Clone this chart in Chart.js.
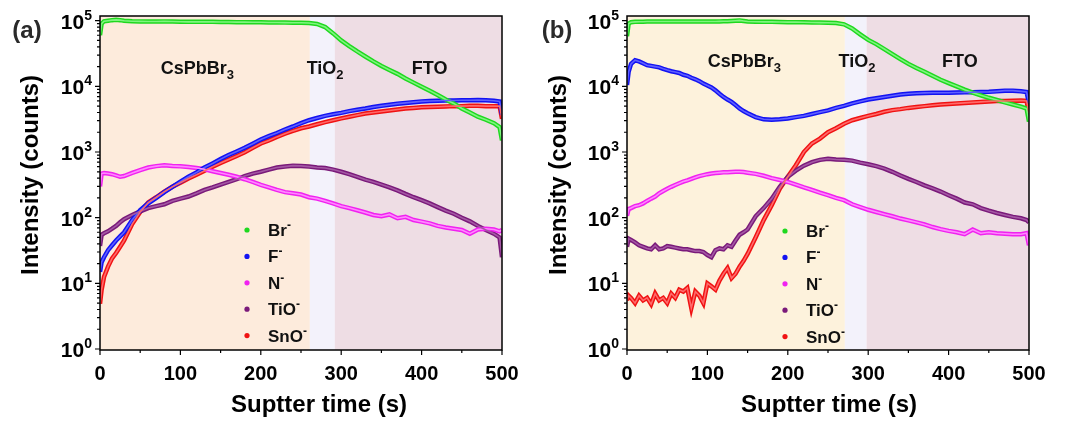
<!DOCTYPE html>
<html>
<head>
<meta charset="utf-8">
<script src="https://cdn.jsdelivr.net/npm/chart.js@4.4.0/dist/chart.umd.min.js"></script>
<style>
  body { margin: 0; background: #fff; width: 1072px; height: 428px; position: relative; overflow: hidden; }
  canvas { position: absolute; top: 0; }
  #chartA { left: 0; }
  #chartB { left: 528px; }
</style>
</head>
<body>
<canvas id="chartA" width="530" height="428"></canvas>
<canvas id="chartB" width="530" height="428"></canvas>
<script>
// Sputter profiles (counts vs time in s)
const seriesNames = ['Br', 'F', 'N', 'TiO', 'SnO'];
const seriesColors = ['#1fd81f', '#1212f2', '#f022f0', '#7a1a7a', '#f01212'];
const seriesInner = ['#80f580', '#6060ff', '#ff88ff', '#a458a4', '#ff6a6a'];

const xTicks = [0, 100, 200, 300, 400, 500];
const xMinorTicks = [50, 150, 250, 350, 450];
const yExponents = [0, 1, 2, 3, 4, 5];

// layer boundaries (s) and names
const layerNames = ['CsPbBr', 'TiO', 'FTO'];
const layerSubs = ['3', '2', ''];
const layersA = [0, 261, 292, 500];
const layersB = [0, 271, 298, 500];

// panel (a)
const timeA = [0, 2, 5, 10, 15, 20, 25, 30, 40, 50, 60, 70, 80, 90, 100, 110, 120, 130, 140, 150,
  160, 170, 180, 190, 200, 210, 220, 230, 240, 250, 260, 270, 280, 290, 300, 310, 320, 330, 340, 350,
  360, 370, 380, 390, 400, 410, 420, 430, 440, 450, 460, 470, 480, 490, 497, 500];
const brA = [60000, 90000, 98000, 100000, 102000, 103000, 102000, 100000, 98000, 97500, 97000, 97000, 97500, 97000, 96500, 96000, 96500, 96000, 96000, 95500,
  95500, 95000, 95000, 94500, 94500, 94000, 94000, 93500, 93000, 93000, 92000, 89000, 80000, 64000, 50000, 41000, 34000, 28500, 24000, 20500,
  17800, 15500, 13200, 11400, 9900, 8600, 7400, 6300, 5500, 4600, 4000, 3450, 3100, 2750, 2400, 1500];
const fA = [15, 21, 25, 32, 38, 45, 52, 60, 92, 130, 165, 200, 245, 295, 355, 420, 490, 580, 670, 780,
  900, 1020, 1160, 1340, 1550, 1750, 1950, 2200, 2450, 2750, 3050, 3300, 3550, 3750, 3950, 4200, 4400, 4600, 4850, 5050,
  5250, 5450, 5600, 5750, 5900, 6000, 6050, 6100, 6100, 6150, 6150, 6200, 6150, 6050, 5900, 3700];
const nA = [300, 470, 480, 470, 460, 440, 420, 430, 480, 530, 580, 610, 630, 615, 605, 590, 570, 545, 510, 480,
  450, 420, 385, 350, 316, 290, 265, 245, 235, 225, 205, 195, 180, 165, 150, 140, 130, 120, 110, 105,
  112, 98, 103, 92, 87, 82, 75, 71, 68, 65, 57, 66, 68, 66, 62, 65];
const tiA = [37, 55, 58, 62, 68, 75, 85, 95, 110, 125, 140, 150, 160, 180, 195, 210, 235, 265, 290, 320,
  350, 385, 430, 470, 500, 540, 580, 600, 620, 615, 600, 580, 570, 540, 500, 460, 420, 380, 350, 320,
  290, 260, 230, 205, 185, 165, 145, 128, 115, 100, 88, 75, 65, 57, 50, 25];
const snA = [4.9, 8, 12.5, 18, 24, 29, 36, 45, 80, 122, 170, 205, 250, 295, 340, 395, 450, 520, 595, 680,
  770, 870, 990, 1160, 1350, 1500, 1700, 1900, 2100, 2300, 2450, 2650, 2850, 3050, 3250, 3450, 3650, 3850, 4000, 4150,
  4300, 4450, 4600, 4700, 4800, 4850, 4900, 4950, 5000, 5000, 5050, 5050, 5000, 5000, 5000, 3200];

// panel (b)
const timeB = [0, 2, 5, 10, 15, 20, 25, 30, 35, 40, 45, 50, 55, 60, 65, 70, 75, 80, 85, 90, 95, 100,
  105, 110, 115, 120, 125, 130, 135, 140, 145, 150, 160, 170, 180, 190, 200, 210, 220, 230, 240, 250,
  260, 270, 280, 290, 300, 310, 320, 330, 340, 350, 360, 370, 380, 390, 400, 410, 420, 430, 440, 450,
  460, 470, 480, 490, 497, 500];
const brB = [58000, 90000, 95000, 96000, 96500, 96500, 97000, 97000, 97000, 97000, 97000, 97000, 97000, 97000, 97000, 97000, 97000, 97000, 97000, 97000, 97000, 97000,
  97000, 97000, 97500, 98000, 98000, 99000, 100000, 101000, 99000, 97000, 96500, 96000, 96000, 95500, 95000, 95000, 94500, 94000, 93500, 93000,
  92000, 88000, 76000, 62000, 51000, 44000, 37000, 31000, 26000, 22000, 19000, 16700, 14500, 12600, 11200, 10000, 8900, 8000, 7300, 6700,
  6200, 5700, 5300, 4900, 4600, 2900];
const fB = [10500, 16600, 22000, 25000, 24000, 22500, 21000, 20500, 20000, 19500, 18500, 17700, 17000, 16500, 16000, 15000, 14500, 13500, 12800, 12000, 11000, 10300,
  9600, 8700, 7700, 6900, 6300, 5800, 5200, 4600, 4200, 3900, 3400, 3150, 3100, 3150, 3250, 3400, 3550, 3800, 4050, 4300,
  4700, 5050, 5500, 5900, 6300, 6600, 6900, 7200, 7500, 7700, 7850, 7950, 8000, 8000, 8000, 8050, 8100, 8150, 8200, 8250,
  8400, 8600, 8600, 8400, 8200, 5500];
const nB = [107, 135, 140, 150, 155, 165, 180, 195, 210, 235, 255, 275, 295, 315, 335, 355, 370, 390, 410, 430, 445, 460,
  470, 480, 485, 490, 490, 495, 500, 500, 495, 485, 465, 435, 400, 375, 350, 320, 290, 265, 240, 220,
  200, 185, 160, 145, 132, 122, 113, 105, 97, 91, 85, 79, 72, 67, 63, 60, 56, 66, 58, 60,
  58, 57, 56, 56, 58, 38];
const tiB = [36, 48, 46, 42, 38, 36, 34, 33, 38, 33, 34, 37, 36, 35, 34, 33, 33, 32, 31, 31, 30, 27,
  25, 32, 34, 33, 38, 36, 45, 55, 60, 66, 105, 140, 195, 295, 420, 520, 620, 700, 760, 790,
  770, 760, 740, 690, 650, 610, 560, 500, 440, 390, 350, 310, 280, 250, 220, 195, 170, 160, 140, 128,
  118, 110, 103, 98, 92, 85];
const snB = [5.5, 6.5, 6, 5, 6.5, 5.5, 6, 4.8, 7, 5.5, 6, 5, 7, 6, 8, 7.5, 8.5, 4.2, 7.5, 6.5, 5, 10,
  9, 8, 11, 14, 17, 12, 14, 18, 22, 28, 50, 92, 155, 275, 420, 630, 1000, 1350, 1600, 2000,
  2300, 2700, 3050, 3300, 3550, 3800, 4100, 4350, 4500, 4700, 4850, 5000, 5150, 5300, 5400, 5500, 5600, 5700, 5800, 5900,
  6000, 6000, 6050, 6100, 6000, 3900];

const FONT = '"Liberation Sans", Arial, sans-serif';

// draw a row of text pieces: [text, size, dy]
function drawRuns(ctx, runs, x, y, align) {
  let w = 0;
  runs.forEach(([t, s]) => { ctx.font = `bold ${s}px ${FONT}`; w += ctx.measureText(t).width; });
  let cx = align === 'center' ? x - w / 2 : align === 'right' ? x - w : x;
  ctx.textAlign = 'left';
  ctx.textBaseline = 'alphabetic';
  runs.forEach(([t, s, dy]) => {
    ctx.font = `bold ${s}px ${FONT}`;
    ctx.fillText(t, cx, y + dy);
    cx += ctx.measureText(t).width;
  });
}

const decorPlugin = {
  id: 'decor',
  beforeDatasetsDraw(chart) {
    const { ctx, chartArea: a, scales: { x } } = chart;
    const p = chart.options.plugins.decor;
    ctx.save();
    for (let i = 0; i < 3; i++) {
      const x0 = x.getPixelForValue(p.layers[i]);
      const x1 = x.getPixelForValue(p.layers[i + 1]);
      ctx.fillStyle = p.layerColors[i];
      ctx.fillRect(x0, a.top, x1 - x0, a.bottom - a.top);
    }
    ctx.restore();
  },
  afterDatasetsDraw(chart) {
    const { ctx, chartArea: a, scales: { x, y } } = chart;
    const p = chart.options.plugins.decor;
    ctx.save();
    ctx.beginPath();
    ctx.rect(a.left, a.top, a.right - a.left, a.bottom - a.top);
    ctx.clip();
    // lighter core of each trace (hollow markers look)
    chart.data.datasets.forEach((ds, i) => {
      const pts = chart.getDatasetMeta(i).data;
      ctx.beginPath();
      pts.forEach((pt, j) => j ? ctx.lineTo(pt.x, pt.y) : ctx.moveTo(pt.x, pt.y));
      ctx.strokeStyle = seriesInner[i];
      ctx.lineWidth = 1.6;
      ctx.stroke();
    });
    ctx.restore();

    ctx.save();
    ctx.fillStyle = '#111';
    // layer labels
    for (let i = 0; i < 3; i++) {
      const runs = [[layerNames[i], 18, 0]];
      if (layerSubs[i]) runs.push([layerSubs[i], 13, 5]);
      drawRuns(ctx, runs, x.getPixelForValue(p.labelX[i]), p.labelY, 'center');
    }
    // legend
    seriesNames.forEach((name, i) => {
      const ry = p.legendY + i * 26.4;
      ctx.fillStyle = seriesColors[i];
      ctx.beginPath();
      ctx.arc(p.legendX, ry, 2.6, 0, Math.PI * 2);
      ctx.fill();
      ctx.fillStyle = '#111';
      drawRuns(ctx, [[name, 17, 0], ['-', 12, -7]], p.legendX + 21, ry + 6, 'left');
    });
    ctx.restore();
  },
  afterDraw(chart) {
    const { ctx, chartArea: a, scales: { x, y } } = chart;
    const p = chart.options.plugins.decor;
    ctx.save();
    ctx.strokeStyle = '#000';
    ctx.lineWidth = 1.5;
    ctx.strokeRect(a.left, a.top, a.right - a.left, a.bottom - a.top);
    ctx.lineWidth = 1.2;
    ctx.beginPath();
    xTicks.forEach(v => { const px = x.getPixelForValue(v); ctx.moveTo(px, a.bottom); ctx.lineTo(px, a.bottom + 5); });
    xMinorTicks.forEach(v => { const px = x.getPixelForValue(v); ctx.moveTo(px, a.bottom); ctx.lineTo(px, a.bottom + 3); });
    yExponents.forEach(e => {
      const py = y.getPixelForValue(Math.pow(10, e));
      ctx.moveTo(a.left, py); ctx.lineTo(a.left - 5, py);
      if (e < 5) {
        for (let m = 2; m < 10; m++) {
          const pm = y.getPixelForValue(m * Math.pow(10, e));
          ctx.moveTo(a.left, pm); ctx.lineTo(a.left - 3, pm);
        }
      }
    });
    ctx.stroke();

    ctx.fillStyle = '#000';
    xTicks.forEach(v => drawRuns(ctx, [[String(v), 20, 0]], x.getPixelForValue(v), a.bottom + 30, 'center'));
    yExponents.forEach(e => {
      const py = y.getPixelForValue(Math.pow(10, e));
      drawRuns(ctx, [['10', 21, 0], [String(e), 14, -9]], a.left - 8, py + 8, 'right');
    });

    // axis titles
    drawRuns(ctx, [['Suptter time (s)', 24, 0]], p.xTitleX, 412, 'center');
    ctx.save();
    ctx.translate(p.yTitleX, 175);
    ctx.rotate(-Math.PI / 2);
    drawRuns(ctx, [['Intensity (counts)', 24, 0]], 0, 0, 'center');
    ctx.restore();

    // panel tag
    ctx.fillStyle = '#2a2a2a';
    drawRuns(ctx, [[p.tag, 24, 0]], p.tagX, 38, 'center');
    ctx.restore();
  }
};

function makePanel(id, times, values, decor, yWidth, rightPad) {
  const datasets = values.map((vals, i) => ({
    label: seriesNames[i],
    data: times.map((t, j) => ({ x: t, y: vals[j] })),
    borderColor: seriesColors[i],
    borderWidth: 4.5,
    pointRadius: 0,
    fill: false,
    tension: 0
  }));
  new Chart(document.getElementById(id), {
    type: 'line',
    data: { datasets },
    plugins: [decorPlugin],
    options: {
      responsive: false,
      animation: false,
      layout: { padding: { top: 16, right: rightPad, left: 0, bottom: 0 } },
      plugins: {
        legend: { display: false },
        tooltip: { enabled: false },
        decor
      },
      scales: {
        x: {
          type: 'linear', min: 0, max: 500,
          ticks: { display: false }, grid: { display: false }, border: { display: false },
          afterFit: s => { s.height = 78; }
        },
        y: {
          type: 'logarithmic', min: 0.966, max: 117900,
          ticks: { display: false }, grid: { display: false }, border: { display: false },
          afterFit: s => { s.width = yWidth; }
        }
      }
    }
  });
}

makePanel('chartA', timeA, [brA, fA, nA, tiA, snA], {
  layers: layersA,
  layerColors: ['#fdebdc', '#f3f2fb', '#eedde4'],
  labelX: [121, 280, 410],
  labelY: 74,
  legendX: 247,
  legendY: 230,
  xTitleX: 319,
  yTitleX: 38,
  tag: '(a)',
  tagX: 27
}, 100, 28);

makePanel('chartB', timeB, [brB, fB, nB, tiB, snB], {
  layers: layersB,
  layerColors: ['#fdf2dc', '#f3f2fb', '#eedde4'],
  labelX: [146, 286, 414],
  labelY: 67,
  legendX: 257,
  legendY: 231,
  xTitleX: 301,
  yTitleX: 38,
  tag: '(b)',
  tagX: 29
}, 99, 29);
</script>
</body>
</html>
